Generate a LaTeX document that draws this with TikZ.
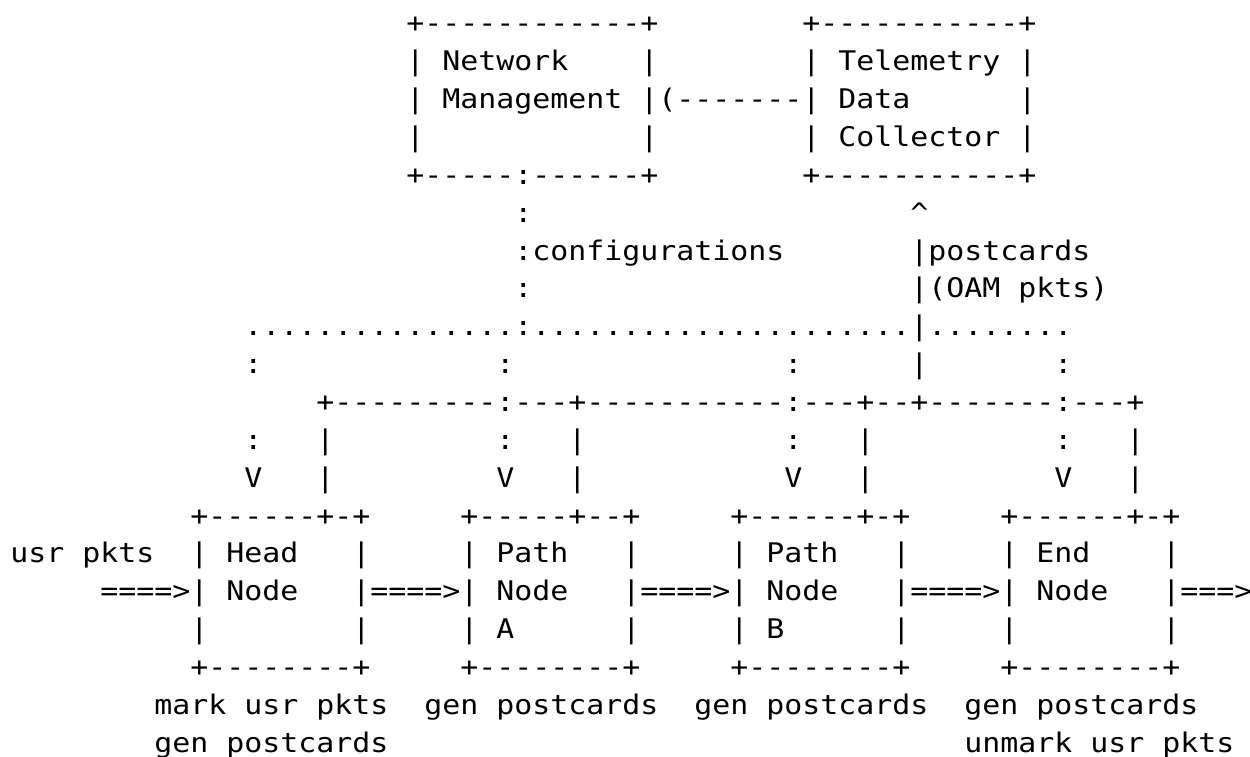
\documentclass[tikz,border=0pt]{standalone}
\usepackage{fontspec}
\setmonofont[FakeStretch=1.1073]{DejaVu Sans Mono}
\begin{document}
\begin{tikzpicture}[x=9pt,y=-18.925pt,
	ascii/.style={anchor=base west,inner sep=0pt,font=\ttfamily\fontsize{13.5}{16}\selectfont}]
	\useasboundingbox (-0.5556,-0.8719) rectangle (68.889,19.128);
	% management and collector boxes
	\node[ascii] (nmtop) at (22,0) {+------------+};
	\node[ascii] (tdctop) at (44,0) {+-----------+};
	\node[ascii] (nm1) at (22,1) {| Network};
	\node[ascii] (nm1r) at (35,1) {|};
	\node[ascii] (tdc1) at (44,1) {| Telemetry |};
	\node[ascii] (nm2) at (22,2) {| Management |(-------| Data};
	\node[ascii] (tdc2r) at (56,2) {|};
	\node[ascii] (nm3) at (22,3) {|};
	\node[ascii] (nm3r) at (35,3) {|};
	\node[ascii] (tdc3) at (44,3) {| Collector |};
	\node[ascii] (nmbot) at (22,4) {+-----:------+};
	\node[ascii] (tdcbot) at (44,4) {+-----------+};
	% configurations down, postcards up
	\node[ascii] (cfg1) at (28,5) {:};
	\node[ascii] (pc1) at (50,5) {\textasciicircum};
	\node[ascii] (cfg2) at (28,6) {:configurations};
	\node[ascii] (pc2) at (50,6) {|postcards};
	\node[ascii] (cfg3) at (28,7) {:};
	\node[ascii] (pc3) at (50,7) {|(OAM pkts)};
	\node[ascii] (dots) at (13,8) {...............:.....................|........};
	\foreach \c/\s in {13/:,27/:,43/:,50/|,58/:}{
		\node[ascii] (drop\c) at (\c,9) {\s};
	}
	\node[ascii] (bus) at (17,10) {+---------:---+-----------:---+--+-------:---+};
	\foreach \c/\b in {13/17,27/31,43/47,58/62}{
		\node[ascii] (cfga\c) at (\c,11) {:};
		\node[ascii] (busa\b) at (\b,11) {|};
		\node[ascii] (cfgv\c) at (\c,12) {V};
		\node[ascii] (busv\b) at (\b,12) {|};
	}
	% path nodes
	\node[ascii] (hdtop) at (10,13) {+------+-+};
	\node[ascii] (patop) at (25,13) {+-----+--+};
	\node[ascii] (pbtop) at (40,13) {+------+-+};
	\node[ascii] (entop) at (55,13) {+------+-+};
	\node[ascii] (usr) at (0,14) {usr pkts};
	\foreach \c/\n/\t in {10/hd/Head,25/pa/Path,40/pb/Path,55/en/End}{
		\node[ascii] (\n1) at (\c,14) {| \t};
		\node[ascii] (\n1r) at (\c+9,14) {|};
		\node[ascii] (\n3r) at (\c+9,16) {|};
		\node[ascii] (\n bot) at (\c,17) {+--------+};
	}
	\node[ascii] (in) at (5,15) {====>| Node};
	\node[ascii] (hdpa) at (19,15) {|====>| Node};
	\node[ascii] (papb) at (34,15) {|====>| Node};
	\node[ascii] (pben) at (49,15) {|====>| Node};
	\node[ascii] (out) at (64,15) {|===>};
	\node[ascii] (hd3) at (10,16) {|};
	\node[ascii] (pa3) at (25,16) {| A};
	\node[ascii] (pb3) at (40,16) {| B};
	\node[ascii] (en3) at (55,16) {|};
	% actions
	\node[ascii] (hdact1) at (8,18) {mark usr pkts};
	\node[ascii] (hdact2) at (8,19) {gen postcards};
	\node[ascii] (paact) at (23,18) {gen postcards};
	\node[ascii] (pbact) at (38,18) {gen postcards};
	\node[ascii] (enact1) at (53,18) {gen postcards};
	\node[ascii] (enact2) at (53,19) {unmark usr pkts};
\end{tikzpicture}
\end{document}
